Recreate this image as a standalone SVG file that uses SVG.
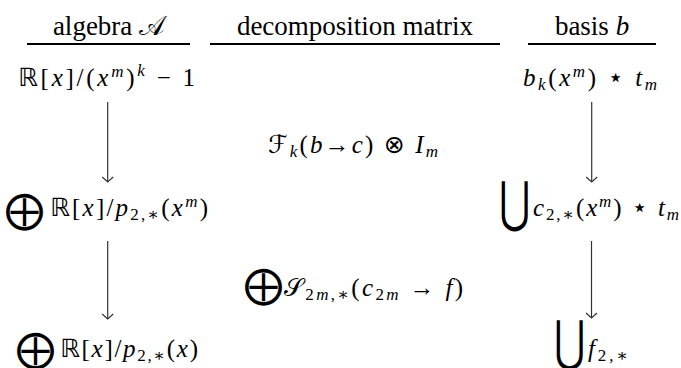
<svg xmlns="http://www.w3.org/2000/svg" width="681" height="368" viewBox="0 0 681 368">
<style>
text{font-family:"Liberation Serif","DejaVu Serif",serif;fill:#000}
.hd{font-size:27px}
.m{font-size:25px}
.i{font-style:italic}
.s{font-size:17px}
.big{font-family:"DejaVu Sans","DejaVu Serif",sans-serif;font-size:39px}
.cup{font-family:"DejaVu Sans","DejaVu Serif",sans-serif;font-size:40px}
.sym{font-family:"DejaVu Sans",sans-serif}
.star{font-family:"DejaVu Sans",sans-serif;font-size:26px}
.rule{stroke:#000;stroke-width:2}
.arr{stroke:#333;stroke-width:1.2;fill:none}
</style>
<defs>
<marker id="ah" markerUnits="userSpaceOnUse" markerWidth="10" markerHeight="14" refX="7" refY="7" orient="auto" viewBox="0 0 10 14">
<path d="M2,1.5 L7,7 L2,12.5" fill="none" stroke="#333" stroke-width="1.2"/>
</marker>
</defs>
<g id="headers">
<g id="h-algebra"><text class="hd" x="109" y="35" text-anchor="middle">algebra <tspan class="sym">𝒜</tspan></text><line class="rule" x1="27" y1="44" x2="190" y2="44"/></g>
<g id="h-matrix"><text class="hd" x="355" y="35" text-anchor="middle">decomposition matrix</text><line class="rule" x1="210" y1="44" x2="500" y2="44"/></g>
<g id="h-basis"><text class="hd" x="592" y="35" text-anchor="middle">basis <tspan class="i">b</tspan></text><line class="rule" x1="528" y1="44" x2="656" y2="44"/></g>
</g>
<g id="n-alg1"><text class="m" x="18" y="86" textLength="177" lengthAdjust="spacing"><tspan class="sym">ℝ</tspan>[<tspan class="i">x</tspan>]/(<tspan class="i">x</tspan><tspan class="s i" dy="-9">m</tspan><tspan dy="9">)</tspan><tspan class="s i" dy="-10">k</tspan><tspan dy="10"> − 1</tspan></text></g>
<g id="n-basis1"><text class="m" x="523" y="86" textLength="134" lengthAdjust="spacing"><tspan class="i">b</tspan><tspan class="s i" dy="4">k</tspan><tspan dy="-4">(</tspan><tspan class="i">x</tspan><tspan class="s i" dy="-9">m</tspan><tspan dy="9">) </tspan><tspan class="star">⋆</tspan> <tspan class="i">t</tspan><tspan class="s i" dy="4">m</tspan></text></g>
<g id="n-mat1"><text class="m" x="268" y="153" textLength="170" lengthAdjust="spacing"><tspan class="sym">ℱ</tspan><tspan class="s i" dy="4">k</tspan><tspan dy="-4">(</tspan><tspan class="i">b</tspan>→<tspan class="i">c</tspan>) <tspan class="sym">⊗</tspan> <tspan class="i">I</tspan><tspan class="s i" dy="4">m</tspan></text></g>
<g id="n-alg2"><text class="big" x="5" y="223">⨁</text><text class="m" x="50" y="216" textLength="158" lengthAdjust="spacing"><tspan class="sym">ℝ</tspan>[<tspan class="i">x</tspan>]/<tspan class="i">p</tspan><tspan class="s" dy="4">2,∗</tspan><tspan dy="-4">(</tspan><tspan class="i">x</tspan><tspan class="s i" dy="-9">m</tspan><tspan dy="9">)</tspan></text></g>
<g id="n-basis2"><text class="cup" transform="translate(499,221) scale(0.95,1.38)">⋃</text><text class="m" x="533" y="216" textLength="146" lengthAdjust="spacing"><tspan class="i">c</tspan><tspan class="s" dy="4">2,∗</tspan><tspan dy="-4">(</tspan><tspan class="i">x</tspan><tspan class="s i" dy="-9">m</tspan><tspan dy="9">) </tspan><tspan class="star">⋆</tspan> <tspan class="i">t</tspan><tspan class="s i" dy="4">m</tspan></text></g>
<g id="n-mat2"><text class="big" x="244" y="298">⨁</text><text class="m" x="284" y="296" textLength="179" lengthAdjust="spacing"><tspan class="sym">𝒮</tspan><tspan class="s" dy="4">2<tspan class="i">m</tspan>,∗</tspan><tspan dy="-4">(</tspan><tspan class="i">c</tspan><tspan class="s" dy="4">2<tspan class="i">m</tspan></tspan><tspan dy="-4"> → </tspan><tspan class="i">f</tspan>)</text></g>
<g id="n-alg3"><text class="big" x="16" y="362">⨁</text><text class="m" x="60" y="357" textLength="138" lengthAdjust="spacing"><tspan class="sym">ℝ</tspan>[<tspan class="i">x</tspan>]/<tspan class="i">p</tspan><tspan class="s" dy="4">2,∗</tspan><tspan dy="-4">(</tspan><tspan class="i">x</tspan>)</text></g>
<g id="n-basis3"><text class="cup" transform="translate(554,360) scale(0.95,1.38)">⋃</text><text class="m" x="588" y="357" textLength="40" lengthAdjust="spacing"><tspan class="i">f</tspan><tspan class="s" dy="4">2,∗</tspan></text></g>
<g id="connectors">
<line class="arr" x1="107.7" y1="102" x2="107.7" y2="182" marker-end="url(#ah)"/>
<line class="arr" x1="591.7" y1="102" x2="591.7" y2="182" marker-end="url(#ah)"/>
<line class="arr" x1="107.7" y1="241" x2="107.7" y2="319" marker-end="url(#ah)"/>
<line class="arr" x1="591.5" y1="241" x2="591.5" y2="318" marker-end="url(#ah)"/>
</g>
</svg>
